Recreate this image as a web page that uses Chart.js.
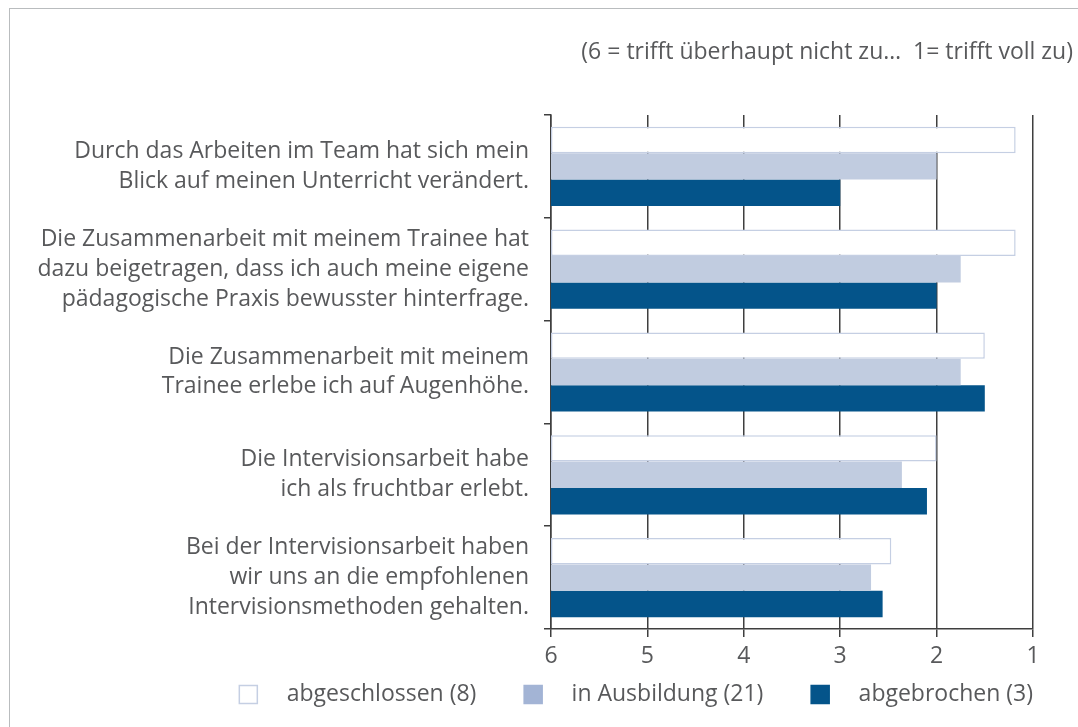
<!DOCTYPE html>
<html>
<head>
<meta charset="utf-8">
<script src="https://cdn.jsdelivr.net/npm/chart.js@4"></script>
<style>
  html, body { margin: 0; padding: 0; background: #fff; overflow: hidden; }
  #frame { position: absolute; left: 9px; top: 8px; width: 1200px; height: 900px; border: 1.5px solid #b9bcbe; }
  #wrap { position: absolute; left: 0; top: 0; width: 1078px; height: 727px; }
</style>
</head>
<body>
<div id="frame"></div>
<div id="wrap"><canvas id="ratingChart"></canvas></div>
<script>
const categories = [
  ['Durch das Arbeiten im Team hat sich mein', 'Blick auf meinen Unterricht verändert.'],
  ['Die Zusammenarbeit mit meinem Trainee hat', 'dazu beigetragen, dass ich auch meine eigene', 'pädagogische Praxis bewusster hinterfrage.'],
  ['Die Zusammenarbeit mit meinem', 'Trainee erlebe ich auf Augenhöhe.'],
  ['Die Intervisionsarbeit habe', 'ich als fruchtbar erlebt.'],
  ['Bei der Intervisionsarbeit haben', 'wir uns an die empfohlenen', 'Intervisionsmethoden gehalten.'],
];
const seriesNames = ['abgeschlossen (8)', 'in Ausbildung (21)', 'abgebrochen (3)'];
const abgeschlossen = [1.18, 1.18, 1.5, 2.0, 2.47];
const inAusbildung = [2.0, 1.75, 1.75, 2.36, 2.68];
const abgebrochen = [3.0, 2.0, 1.5, 2.1, 2.56];
const scaleNote = '(6 = trifft überhaupt nicht zu…  1= trifft voll zu)';

const textColor = '#58595b';
const axisColor = '#3f3f3f';
const fontFamily = '"Open Sans", Lato, sans-serif';
const fontSize = 23;

// bars grow from 6 (left) towards the value
const fromSix = (arr) => arr.map(v => [6, v]);

const legendFill = ['#ffffff', '#a3b4d5', '#04548a'];
const legendStroke = ['#c5cfe3', '#a3b4d5', '#04548a'];

// note in the top right corner, right aligned to the frame
const notePlugin = {
  id: 'scaleNote',
  afterDraw(chart) {
    const c = chart.ctx;
    c.save();
    c.font = fontSize + 'px ' + fontFamily;
    c.fillStyle = textColor;
    c.textAlign = 'right';
    c.textBaseline = 'middle';
    c.fillText(scaleNote, chart.width - 5, 52);
    c.restore();
  },
};

const ctx = document.getElementById('ratingChart').getContext('2d');
new Chart(ctx, {
  type: 'bar',
  data: {
    labels: categories,
    datasets: [
      {
        label: seriesNames[0],
        data: fromSix(abgeschlossen),
        backgroundColor: '#ffffff',
        borderColor: '#c5cfe3',
        borderWidth: 1.5,
        borderSkipped: false,
      },
      {
        label: seriesNames[1],
        data: fromSix(inAusbildung),
        backgroundColor: '#c1cce0',
      },
      {
        label: seriesNames[2],
        data: fromSix(abgebrochen),
        backgroundColor: '#04548a',
      },
    ],
  },
  plugins: [notePlugin],
  options: {
    indexAxis: 'y',
    responsive: true,
    maintainAspectRatio: false,
    animation: false,
    layout: {
      padding: { top: 115, right: 45, bottom: 11, left: 10 },
    },
    datasets: {
      bar: { categoryPercentage: 0.77, barPercentage: 1.0 },
    },
    plugins: {
      legend: {
        position: 'bottom',
        align: 'end',
        labels: {
          color: textColor,
          font: { family: fontFamily, size: fontSize },
          boxWidth: 18,
          boxHeight: 18,
          padding: 0,
          generateLabels: (chart) => chart.data.datasets.map((ds, i, all) => ({
            text: '   ' + ds.label + (i < all.length - 1 ? '        ' : ''),
            fillStyle: legendFill[i],
            strokeStyle: legendStroke[i],
            lineWidth: 1.5,
            fontColor: textColor,
            datasetIndex: i,
            hidden: false,
          })),
        },
      },
      tooltip: { enabled: false },
    },
    scales: {
      x: {
        type: 'linear',
        reverse: true,
        min: 1,
        max: 6,
        afterFit: (scale) => { scale.height = 54; },
        ticks: {
          stepSize: 1,
          color: textColor,
          font: { family: fontFamily, size: fontSize },
          padding: 6,
        },
        grid: {
          color: axisColor,
          lineWidth: 1.5,
          tickLength: 8,
        },
        border: { color: axisColor, width: 1.5 },
      },
      y: {
        afterFit: (scale) => { scale.width = 541; },
        ticks: {
          color: textColor,
          font: { family: fontFamily, size: fontSize, lineHeight: 1.3 },
          padding: 15,
        },
        grid: {
          drawOnChartArea: false,
          color: axisColor,
          lineWidth: 1.5,
          tickLength: 7,
        },
        border: { color: axisColor, width: 1.5 },
      },
    },
  },
});
</script>
</body>
</html>
